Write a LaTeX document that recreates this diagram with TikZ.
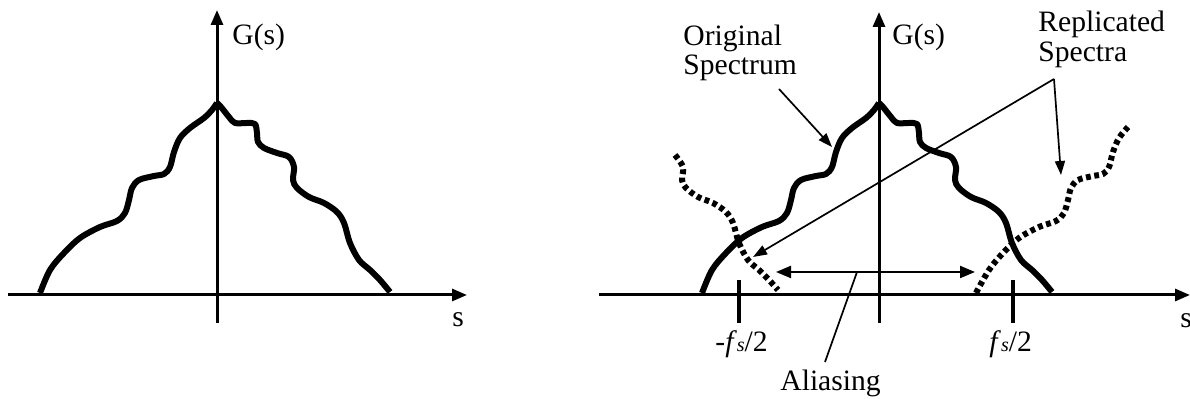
\documentclass[tikz,border=0pt]{standalone}
\usepackage{fontspec}
\setmainfont{Liberation Serif}
\usetikzlibrary{arrows.meta}
\begin{document}
\begin{tikzpicture}[x=0.5pt,y=-0.5pt,
  axis/.style={line width=1.5pt,-{Triangle[length=7.5pt,width=6pt]}},
  spec/.style={line width=3pt,line join=round},
  repl/.style={line width=3pt,dash pattern=on 2.4pt off 1.8pt},
  pointer/.style={line width=0.85pt,-{Triangle[length=7pt,width=5pt]}},
  dbl/.style={line width=1.1pt,{Triangle[length=7.5pt,width=6pt]}-{Triangle[length=7.5pt,width=6pt]}},
  plain/.style={line width=0.85pt},
  lbl/.style={inner sep=0pt,anchor=base west,font=\fontsize{14.8}{14.8}\selectfont},
  tickmark/.style={line width=1.6pt}]
\useasboundingbox (0,0) rectangle (1190,399);

% ---------- left panel ----------
\coordinate (lx0) at (8,295);
\coordinate (lx1) at (467,295);
\coordinate (ly0) at (217,323);
\coordinate (ly1) at (217,10);
\draw[axis] (lx0) -- (lx1);
\draw[axis] (ly0) -- (ly1);
\node[lbl] (lG) at (232,45) {G(s)};
\node[lbl] (ls) at (452,327) {s};

\begin{scope}[shift={(217,0)}]
\draw[spec] plot[smooth,tension=0.55] coordinates {(-177,293) (-167,270) (-153,253) (-137,238) (-117,227) (-100,221) (-92,213) (-88,200) (-85,188) (-78,180) (-63,176) (-53,174) (-47,167) (-43,152) (-37,138) (-27,128) (-13,118) (-5,110) (0,103)};
\draw[spec] plot[smooth,tension=0.55] coordinates {(0,103) (4,107) (12,117) (18,123) (30,123) (38,124) (40,133) (41,142) (47,148) (60,153) (72,157) (77,167) (76,180) (80,188) (92,197) (107,203) (120,212) (127,223) (133,243) (142,260) (153,270) (163,280) (173,292)};
\end{scope}

% ---------- right panel ----------
\coordinate (rx0) at (599,295);
\coordinate (rx1) at (1190,295);
\coordinate (ry0) at (879,323);
\coordinate (ry1) at (879,12);
\draw[axis] (rx0) -- (rx1);
\draw[axis] (ry0) -- (ry1);
\node[lbl] (rG) at (892,45) {G(s)};
\node[lbl] (rs) at (1180,328) {s};

\coordinate (t1a) at (739,280);
\coordinate (t1b) at (739,323);
\coordinate (t2a) at (1013,280);
\coordinate (t2b) at (1013,323);
\draw[tickmark] (t1a) -- (t1b);
\draw[tickmark] (t2a) -- (t2b);
\node[lbl] (mfs) at (715,352) {-\textit{f}{\fontsize{10}{10}\selectfont\textit{s}}/2};
\node[lbl] (pfs) at (989,352) {\textit{f}{\fontsize{10}{10}\selectfont\textit{s}}/2};

% original spectrum
\begin{scope}[shift={(879,0)}]
\draw[spec] plot[smooth,tension=0.55] coordinates {(-177,293) (-167,270) (-153,253) (-137,238) (-117,227) (-100,221) (-92,213) (-88,200) (-85,188) (-78,180) (-63,176) (-53,174) (-47,167) (-43,152) (-37,138) (-27,128) (-13,118) (-5,110) (0,103)};
\draw[spec] plot[smooth,tension=0.55] coordinates {(0,103) (4,107) (12,117) (18,123) (30,123) (38,124) (40,133) (41,142) (47,148) (60,153) (72,157) (77,167) (76,180) (80,188) (92,197) (107,203) (120,212) (127,223) (133,243) (142,260) (153,270) (163,280) (173,292)};
\end{scope}

% replicated spectra
\begin{scope}[shift={(606,0)}]
\draw[repl] plot[smooth,tension=0.55] coordinates {(69,155) (77,167) (76,180) (80,188) (92,197) (107,203) (120,212) (127,223) (133,243) (142,260) (153,270) (163,280) (172,290)};
\end{scope}
\begin{scope}[shift={(1156,0)}]
\draw[repl] plot[smooth,tension=0.55] coordinates {(-180,293) (-167,270) (-153,253) (-137,238) (-117,227) (-100,221) (-92,213) (-88,200) (-85,188) (-78,180) (-63,176) (-53,174) (-47,167) (-43,152) (-37,138) (-28,127)};
\end{scope}

% labels and pointers
\node[lbl] (orig1) at (683,46) {Original};
\node[lbl] (orig2) at (683,75) {Spectrum};
\coordinate (os0) at (779,89);
\coordinate (os1) at (832,147);
\draw[pointer] (os0) -- (os1);

\node[lbl] (rep1) at (1038,32) {Replicated};
\node[lbl] (rep2) at (1038,62) {Spectra};
\coordinate (rv) at (1054,79);
\coordinate (rtl) at (753,257);
\coordinate (rtr) at (1061,175);
\draw[pointer] (rv) -- (rtl);
\draw[pointer] (rv) -- (rtr);

\coordinate (al0) at (776,272);
\coordinate (al1) at (975,272);
\draw[dbl] (al0) -- (al1);
\coordinate (alp) at (857,272);
\coordinate (alq) at (825,362);
\draw[plain] (alq) -- (alp);
\node[lbl] (alias) at (780,391) {Aliasing};
\end{tikzpicture}
\end{document}
